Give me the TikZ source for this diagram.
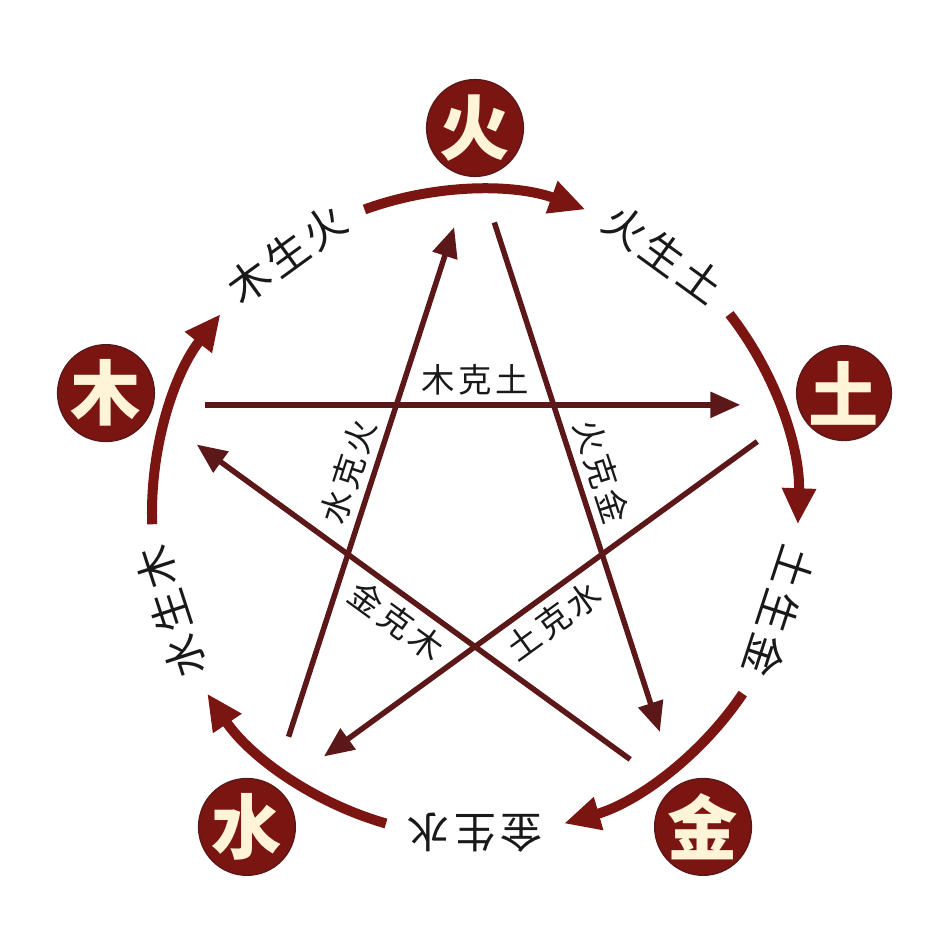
\documentclass[tikz,border=0pt]{standalone}
\usepackage{fontspec}
\newfontfamily\cjk{Noto Sans CJK SC}
\newfontfamily\cjksp{Noto Sans CJK SC}[LetterSpace=10]
\usetikzlibrary{arrows.meta}
\definecolor{wxred}{HTML}{7A1512}
\definecolor{wxline}{HTML}{5C1818}
\definecolor{wxtext}{HTML}{FFF4D8}

\begin{document}
\begin{tikzpicture}[
    elem/.style={circle, fill=wxred, draw=wxline, line width=0.8pt, minimum size=1.84cm,
        inner sep=0pt, text=wxtext, font=\cjk\bfseries\fontsize{40}{40}\selectfont},
    sheng/.style={wxred, line width=0.2cm, -{Triangle[length=0.72cm, width=0.64cm]}},
    ke/.style={wxline, line width=0.11cm, -{Triangle[length=0.6cm, width=0.5cm]},
        shorten <=1.25cm, shorten >=1.35cm},
    shenglabel/.style={font=\cjksp\fontsize{24}{24}\selectfont, text=black!90},
    kelabel/.style={font=\cjksp\fontsize{19}{19}\selectfont, text=black!90, sloped, inner sep=4pt}
]
\useasboundingbox (-9.5,-8.54) rectangle (9.3,10.26);

% the five elements
\node[elem] (huo) at (90:7.7) {火};
\node[elem] (tu) at (18:7.76) {土};
\node[elem] (jin) at (-54:7.76) {金};
\node[elem] (shui) at (-126:7.76) {水};
\node[elem] (mu) at (162:7.76) {木};

% star points
\coordinate (vhuo) at (90:7);
\coordinate (vtu) at (18:7);
\coordinate (vjin) at (-54:7);
\coordinate (vshui) at (-126:7);
\coordinate (vmu) at (162:7);

% ke cycle (star)
\draw[ke] (vmu) -- (vtu) node[kelabel, midway, above] {木克土};
\draw[ke] (vtu) -- (vshui) node[kelabel, midway, below] {土克水};
\draw[ke] (vshui) -- (vhuo) node[kelabel, midway, above] {水克火};
\draw[ke] (vhuo) -- (vjin) node[kelabel, midway, above] {火克金};
\draw[ke] (vjin) -- (vmu) node[kelabel, midway, below] {金克木};

% sheng cycle (outer ring)
\foreach \a in {90,18,-54,-126,162}
    \draw[sheng] (\a+20:6.46) arc[start angle=\a+20, end angle=\a-20, radius=6.46];

\node[shenglabel, rotate=36] (musheng) at (126:6.4) {木生火};
\node[shenglabel, rotate=-36] (huosheng) at (54:6.4) {火生土};
\node[shenglabel, rotate=-108] (tusheng) at (-18:6.4) {土生金};
\node[shenglabel, rotate=180] (jinsheng) at (-90:6.4) {金生水};
\node[shenglabel, rotate=108] (shuisheng) at (-162:6.4) {水生木};
\end{tikzpicture}
\end{document}
